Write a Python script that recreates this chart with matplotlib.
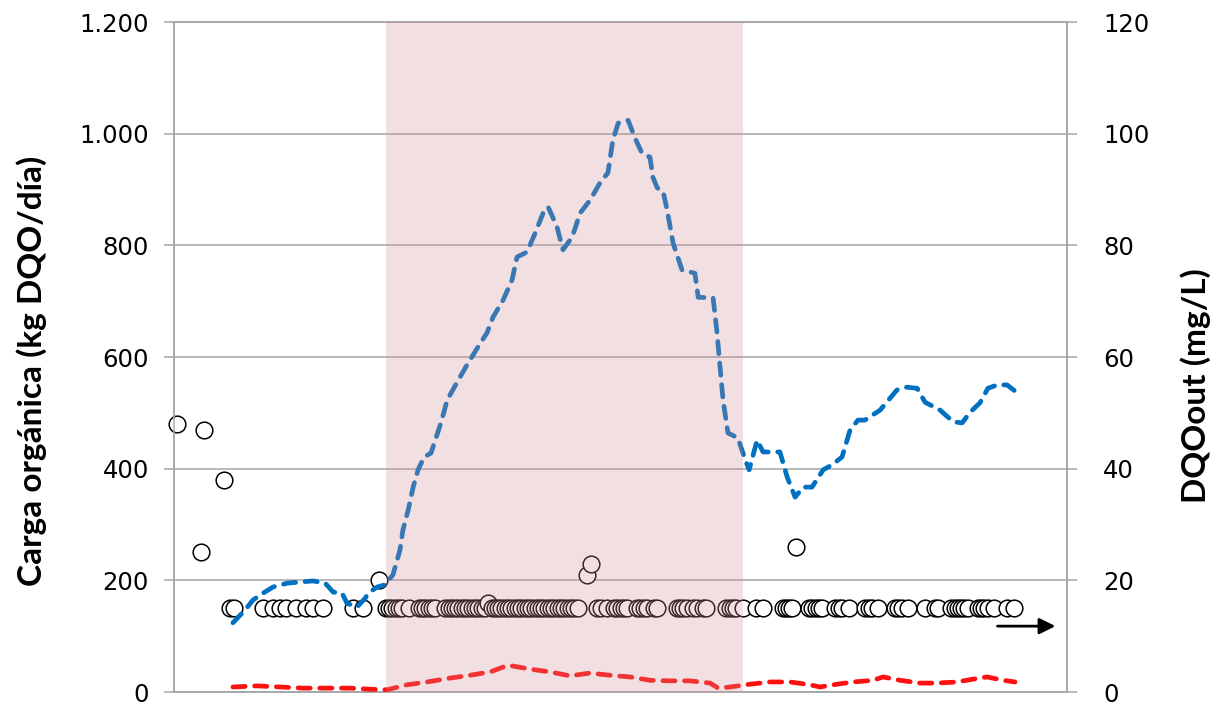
import matplotlib
matplotlib.use("Agg")
import matplotlib.pyplot as plt

# Carga orgánica de entrada (kg DQO/día), eje izquierdo
carga_dias = [17.8, 21.5, 23.9, 26.9, 29.9, 34.2, 38.1, 42.0, 45.7, 48.1, 50.8, 52.3,
              55.3, 57.8, 58.7, 61.4, 63.8, 66.2, 68.3, 69.2, 70.8, 72.3, 73.8, 75.6,
              77.7, 79.2, 80.7, 82.6, 85.6, 88.9, 91.9, 94.6, 96.5, 99.5, 102.2, 103.7,
              106.7, 109.2, 111.6, 113.1, 115.8, 117.6, 120.4, 122.8, 125.8, 128.8, 131.2,
              132.7, 134.3, 137.3, 139.4, 141.5, 143.9, 144.8, 146.1, 147.9, 149.1, 150.9,
              153.6, 157.5, 158.5, 163.0, 164.2, 165.1, 166.0, 167.5, 170.5, 172.7, 173.9,
              176.3, 178.1, 183.2, 185.4, 187.8, 190.2, 192.9, 196.3, 199.0, 202.0, 204.4,
              206.8, 208.9, 213.5, 218.6, 221.6, 224.7, 227.1, 231.6, 235.6, 238.3, 240.7,
              243.7, 246.1, 248.9, 251.9, 254.3]
carga_kg = [124, 147, 165, 177, 188, 195, 197, 199, 195, 179, 177, 159,
            152, 168, 177, 188, 192, 210, 254, 290, 326, 367, 398, 421,
            428, 455, 482, 523, 555, 589, 618, 643, 672, 702, 738, 779,
            788, 822, 858, 869, 833, 792, 815, 858, 881, 912, 930,
            989, 1019, 1024, 992, 965, 958, 922, 903, 896, 863, 804,
            756, 750, 707, 706, 643, 582, 523, 464, 455, 416, 398,
            451, 430, 430, 385, 349, 367, 367, 398, 407, 421, 469,
            487, 487, 505, 541, 546, 544, 519, 505, 484, 482, 501,
            518, 544, 550, 550, 539]

# Carga orgánica de salida (kg DQO/día), eje izquierdo
salida_dias = [17.8, 25.1, 32.1, 39.0, 46.3, 53.2, 59.3, 64.4, 70.5, 76.5, 83.5, 89.5,
               95.6, 101.0, 107.7, 113.7, 119.7, 125.8, 131.8, 137.9, 143.9, 150.0, 156.0,
               162.1, 164.5, 168.1, 174.2, 180.2, 186.3, 192.3, 195.3, 200.5, 205.3, 211.4,
               214.4, 219.5, 225.6, 230.7, 236.8, 241.6, 245.8, 250.7, 254.3]
salida_kg = [9, 11, 9, 7, 7, 7, 5, 4, 13, 18, 25, 30,
             36, 48, 41, 36, 29, 34, 30, 27, 21, 20, 20,
             16, 7, 9, 14, 18, 18, 13, 9, 14, 18, 21,
             27, 21, 16, 16, 18, 23, 27, 21, 18]

# DQO del efluente (mg/L), eje derecho: (día, valor)
dqo_out = [(1, 48), (8, 25), (9, 47), (15, 38), (17, 15), (18, 15),
           (27, 15), (30, 15), (32, 15), (34, 15), (37, 15), (40, 15), (42, 15), (45, 15),
           (54, 15), (57, 15), (62, 20),
           (64, 15), (65, 15), (66, 15), (67, 15), (68, 15), (69, 15), (71, 15),
           (74, 15), (75, 15), (76, 15), (77, 15), (78, 15), (79, 15),
           (82, 15), (83, 15), (84, 15), (85, 15), (86, 15), (87, 15), (88, 15), (89, 15),
           (90, 15), (91, 15), (92, 15), (93, 15), (94, 15), (95, 16), (96, 15), (97, 15),
           (98, 15), (99, 15), (100, 15), (101, 15), (102, 15), (103, 15), (104, 15),
           (105, 15), (106, 15), (107, 15), (108, 15), (109, 15), (110, 15), (111, 15),
           (112, 15), (113, 15), (114, 15), (115, 15), (116, 15), (117, 15), (118, 15),
           (119, 15), (120, 15), (121, 15), (122, 15),
           (125, 21), (126, 23),
           (128, 15), (129, 15), (131, 15), (133, 15), (134, 15), (135, 15), (136, 15),
           (137, 15), (140, 15), (141, 15), (142, 15), (143, 15), (145, 15), (146, 15),
           (152, 15), (153, 15), (154, 15), (155, 15), (157, 15), (158, 15), (160, 15),
           (161, 15), (167, 15), (168, 15), (169, 15), (170, 15), (172, 15),
           (176, 15), (178, 15), (184, 15), (185, 15), (186, 15), (187, 15), (188, 26),
           (192, 15), (193, 15), (194, 15), (195, 15), (196, 15),
           (200, 15), (201, 15), (202, 15), (204, 15),
           (209, 15), (210, 15), (211, 15), (213, 15),
           (218, 15), (219, 15), (220, 15), (222, 15), (227, 15), (230, 15), (231, 15),
           (235, 15), (236, 15), (237, 15), (238, 15), (239, 15), (240, 15),
           (243, 15), (244, 15), (245, 15), (246, 15), (248, 15), (252, 15), (254, 15)]
dqo_dias = [d for d, v in dqo_out]
dqo_mgl = [v for d, v in dqo_out]

# periodo sombreado (días)
periodo = (64, 172)

gris = "#a6a6a6"
plt.rcParams["font.family"] = "DejaVu Sans"

fig = plt.figure(figsize=(12.24, 7.06), dpi=100)
ax = fig.add_axes([0.1422, 0.0198, 0.7295, 0.9490])
ax2 = ax.twinx()

# ax2 (circulos + rejilla) queda debajo, ax (lineas + sombreado) encima
ax.set_zorder(ax2.get_zorder() + 1)
ax.patch.set_visible(False)

ax.set_xlim(0, 270)
ax.set_ylim(0, 1200)
ax2.set_ylim(0, 120)
ax.set_xticks(range(0, 271, 30))
ax.set_yticks(range(0, 1201, 200))
ax.set_yticklabels([f"{v:,}".replace(",", ".") for v in range(0, 1201, 200)])
ax2.set_yticks(range(0, 121, 20))

ax2.grid(True, color=gris, lw=1.1, zorder=0)
ax2.set_axisbelow(True)

ax2.plot(dqo_dias, dqo_mgl, "o", ms=12, mfc="white", mec="black", mew=1.1,
         zorder=3, clip_on=False)

ax.plot(carga_dias, carga_kg, color="#0070C0", lw=3.4, dashes=(2.6, 2.0),
        dash_capstyle="round", zorder=3)
ax.plot(salida_dias, salida_kg, color="#FF1010", lw=3.4, dashes=(2.6, 2.0),
        dash_capstyle="round", zorder=3)

ax.axvspan(periodo[0], periodo[1], color="#d18e95", alpha=0.28, lw=0, zorder=5)

ax2.annotate("", xy=(266.5, 11.8), xytext=(249, 11.8),
             arrowprops=dict(arrowstyle="-|>", color="black", lw=2,
                             mutation_scale=24, shrinkA=0, shrinkB=0))

for a in (ax, ax2):
    for s in a.spines.values():
        s.set_color(gris)
        s.set_linewidth(1.1)

ax.tick_params(axis="x", length=0, labelbottom=False)
ax.tick_params(axis="y", length=7, width=1.1, color=gris, pad=11, labelsize=17.5)
ax2.tick_params(axis="y", length=7, width=1.1, color=gris, pad=19, labelsize=17.5)

ax.set_ylabel("Carga orgánica (kg DQO/día)", family="Lato", fontweight="bold", fontsize=24)
ax.yaxis.set_label_coords(-0.142, 0.48)
ax2.set_ylabel("DQOout (mg/L)", family="Lato", fontweight="bold", fontsize=24)
ax2.yaxis.set_label_coords(1.1265, 0.457)

fig.savefig("out.png", dpi=100)
